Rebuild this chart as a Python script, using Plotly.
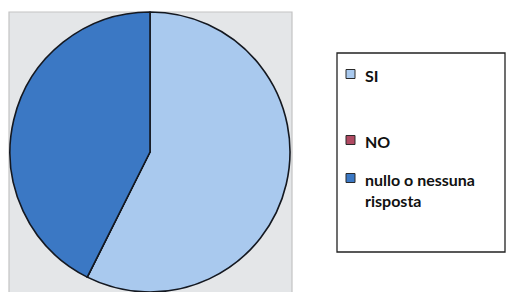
import plotly.graph_objects as go

# Data
labels = ["SI", "NO", "nullo o nessuna risposta"]
legend_text = ["SI", "NO", "nullo o nessuna<br>risposta"]
values = [57.4, 0, 42.6]
colors = ["#a9c9ee", "#b04a62", "#3b78c4"]

# the page body adds an 8px margin, so the figure is drawn offset by 8px
OFF = 8
W, H = 514 - OFF, 292 - OFF

def px(x):
    return (x - OFF) / W

def py(y):
    return 1 - (y - OFF) / H

fig = go.Figure()
fig.add_trace(go.Pie(
    labels=labels,
    values=values,
    sort=False,
    direction="clockwise",
    rotation=0,
    textinfo="none",
    hoverinfo="label+percent",
    marker=dict(colors=colors, line=dict(color="#141820", width=1.6)),
    domain=dict(x=[px(10), px(290)], y=[0, py(12)]),
    showlegend=False,
))

shapes = [
    # plot-area background
    dict(type="rect", xref="paper", yref="paper",
         x0=px(9), x1=px(292), y0=py(300), y1=py(12),
         fillcolor="#e4e6e8", line=dict(color="#c4c4c4", width=1.2), layer="below"),
    # legend box
    dict(type="rect", xref="paper", yref="paper",
         x0=px(337), x1=px(505), y0=py(252), y1=py(53),
         fillcolor="white", line=dict(color="#222222", width=1.3), layer="below"),
]

annotations = []
item_y = [74, 140, 178]
for lab, col, yy in zip(legend_text, colors, item_y):
    shapes.append(dict(type="rect", xref="paper", yref="paper",
                       x0=px(346), x1=px(355), y0=py(yy + 4.5), y1=py(yy - 4.5),
                       fillcolor=col, line=dict(color="#2a2a2a", width=1)))
    annotations.append(dict(xref="paper", yref="paper", x=px(363), y=py(yy - 10.5),
                            text="<b>" + lab + "</b>", showarrow=False,
                            xanchor="left", yanchor="top", align="left",
                            font=dict(family="Lato", size=16, color="#111111")))

fig.update_layout(
    width=W, height=H,
    margin=dict(l=0, r=0, t=0, b=0),
    paper_bgcolor="white",
    plot_bgcolor="white",
    shapes=shapes,
    annotations=annotations,
)

fig.write_html("out.html")
